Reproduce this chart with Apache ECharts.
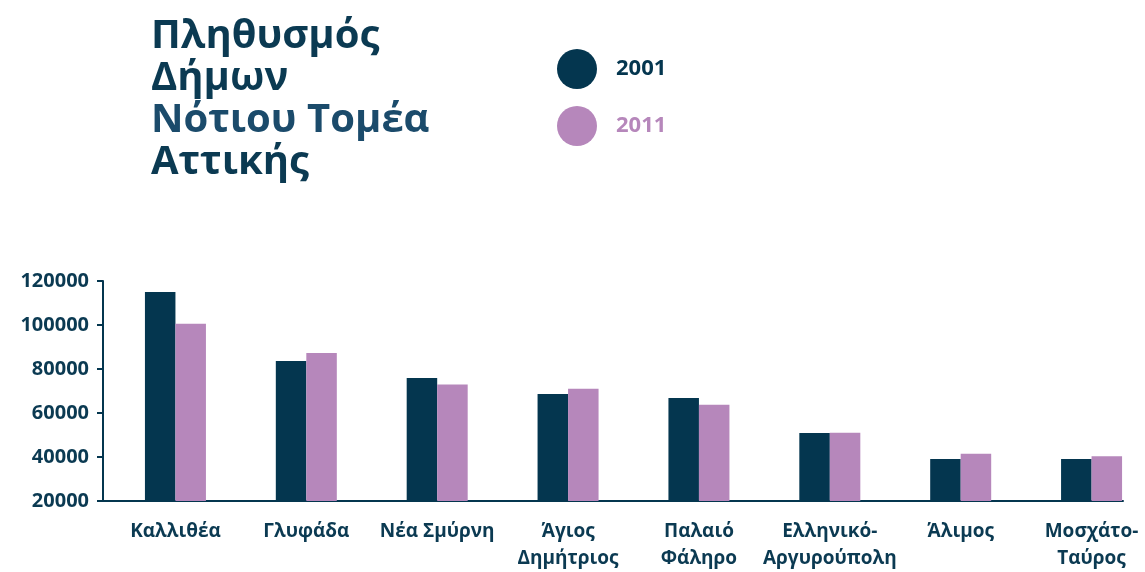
<!DOCTYPE html>
<html>
<head>
<meta charset="utf-8">
<script src="https://cdn.jsdelivr.net/npm/echarts@6/dist/echarts.min.js"></script>
<style>
  html, body { margin: 0; padding: 0; background: #fff; }
  #chart { width: 1145px; height: 572px; }
</style>
</head>
<body>
<div id="chart"></div>
<script>
var categories = ['Καλλιθέα', 'Γλυφάδα', 'Νέα Σμύρνη', 'Άγιος\nΔημήτριος', 'Παλαιό\nΦάληρο',
  'Ελληνικό-\nΑργυρούπολη', 'Άλιμος', 'Μοσχάτο-\nΤαύρος'];
var pop2001 = [115000, 83600, 75900, 68600, 66800, 50900, 39100, 39100];
var pop2011 = [100600, 87300, 72900, 71000, 63700, 51000, 41500, 40300];
var yTicks = { min: 20000, max: 120000, step: 20000 };

var navy = '#04364f';
var pink = '#b687bb';
var font = 'Open Sans';

var chartDom = document.getElementById('chart');
var myChart = echarts.init(chartDom);
var option;

option = {
    animation: false,
    title: {
        text: '{a|Πληθυσμός}\n{a|Δήμων}\n{b|Νότιου Τομέα}\n{a|Αττικής}',
        left: 146,
        top: 11,
        textStyle: {
            rich: {
                a: { fontFamily: font, fontWeight: 'bold', fontSize: 40, lineHeight: 42, color: '#0b3a52' },
                b: { fontFamily: font, fontWeight: 'bold', fontSize: 40, lineHeight: 42, color: '#1b4b6b' }
            }
        }
    },
    legend: {
        orient: 'vertical',
        left: 552,
        top: 44,
        icon: 'circle',
        itemWidth: 68,
        itemHeight: 40,
        itemGap: 17,
        textStyle: { fontFamily: font, fontWeight: 'bold', fontSize: 22 },
        data: [
            { name: '2001', textStyle: { color: navy } },
            { name: '2011', textStyle: { color: pink } }
        ]
    },
    grid: [
        { left: 110, width: 1047, top: 281, bottom: 71, outerBoundsMode: 'none' },
        { left: 103, right: 22, top: 281, bottom: 71, outerBoundsMode: 'none' }
    ],
    xAxis: [
        {
            type: 'category',
            data: categories,
            gridIndex: 0,
            axisLine: { show: false },
            axisTick: { show: false },
            axisLabel: {
                interval: 0,
                margin: 17,
                color: '#0b3a52',
                fontFamily: font,
                fontWeight: 'bold',
                fontSize: 19,
                lineHeight: 27
            }
        },
        {
            type: 'value',
            gridIndex: 1,
            axisLine: { show: true, lineStyle: { color: navy, width: 2 } },
            axisTick: { show: false },
            axisLabel: { show: false },
            splitLine: { show: false }
        }
    ],
    yAxis: [
        {
            type: 'value',
            gridIndex: 0,
            min: yTicks.min,
            max: yTicks.max,
            interval: yTicks.step,
            offset: 7,
            axisLine: { show: true, lineStyle: { color: navy, width: 2 } },
            axisTick: { show: true, length: 6, lineStyle: { color: navy, width: 2 } },
            splitLine: { show: false },
            axisLabel: {
                margin: 14,
                color: '#0b3a52',
                fontFamily: font,
                fontWeight: 'bold',
                fontSize: 20,
                formatter: function (v) { return String(v); }
            }
        },
        { type: 'value', gridIndex: 1, show: false }
    ],
    series: [
        {
            name: '2001',
            type: 'bar',
            barWidth: 30.5,
            barGap: '0%',
            itemStyle: { color: navy },
            data: pop2001
        },
        {
            name: '2011',
            type: 'bar',
            barWidth: 30.5,
            barGap: '0%',
            itemStyle: { color: pink },
            data: pop2011
        }
    ]
};

option && myChart.setOption(option);
</script>
</body>
</html>
